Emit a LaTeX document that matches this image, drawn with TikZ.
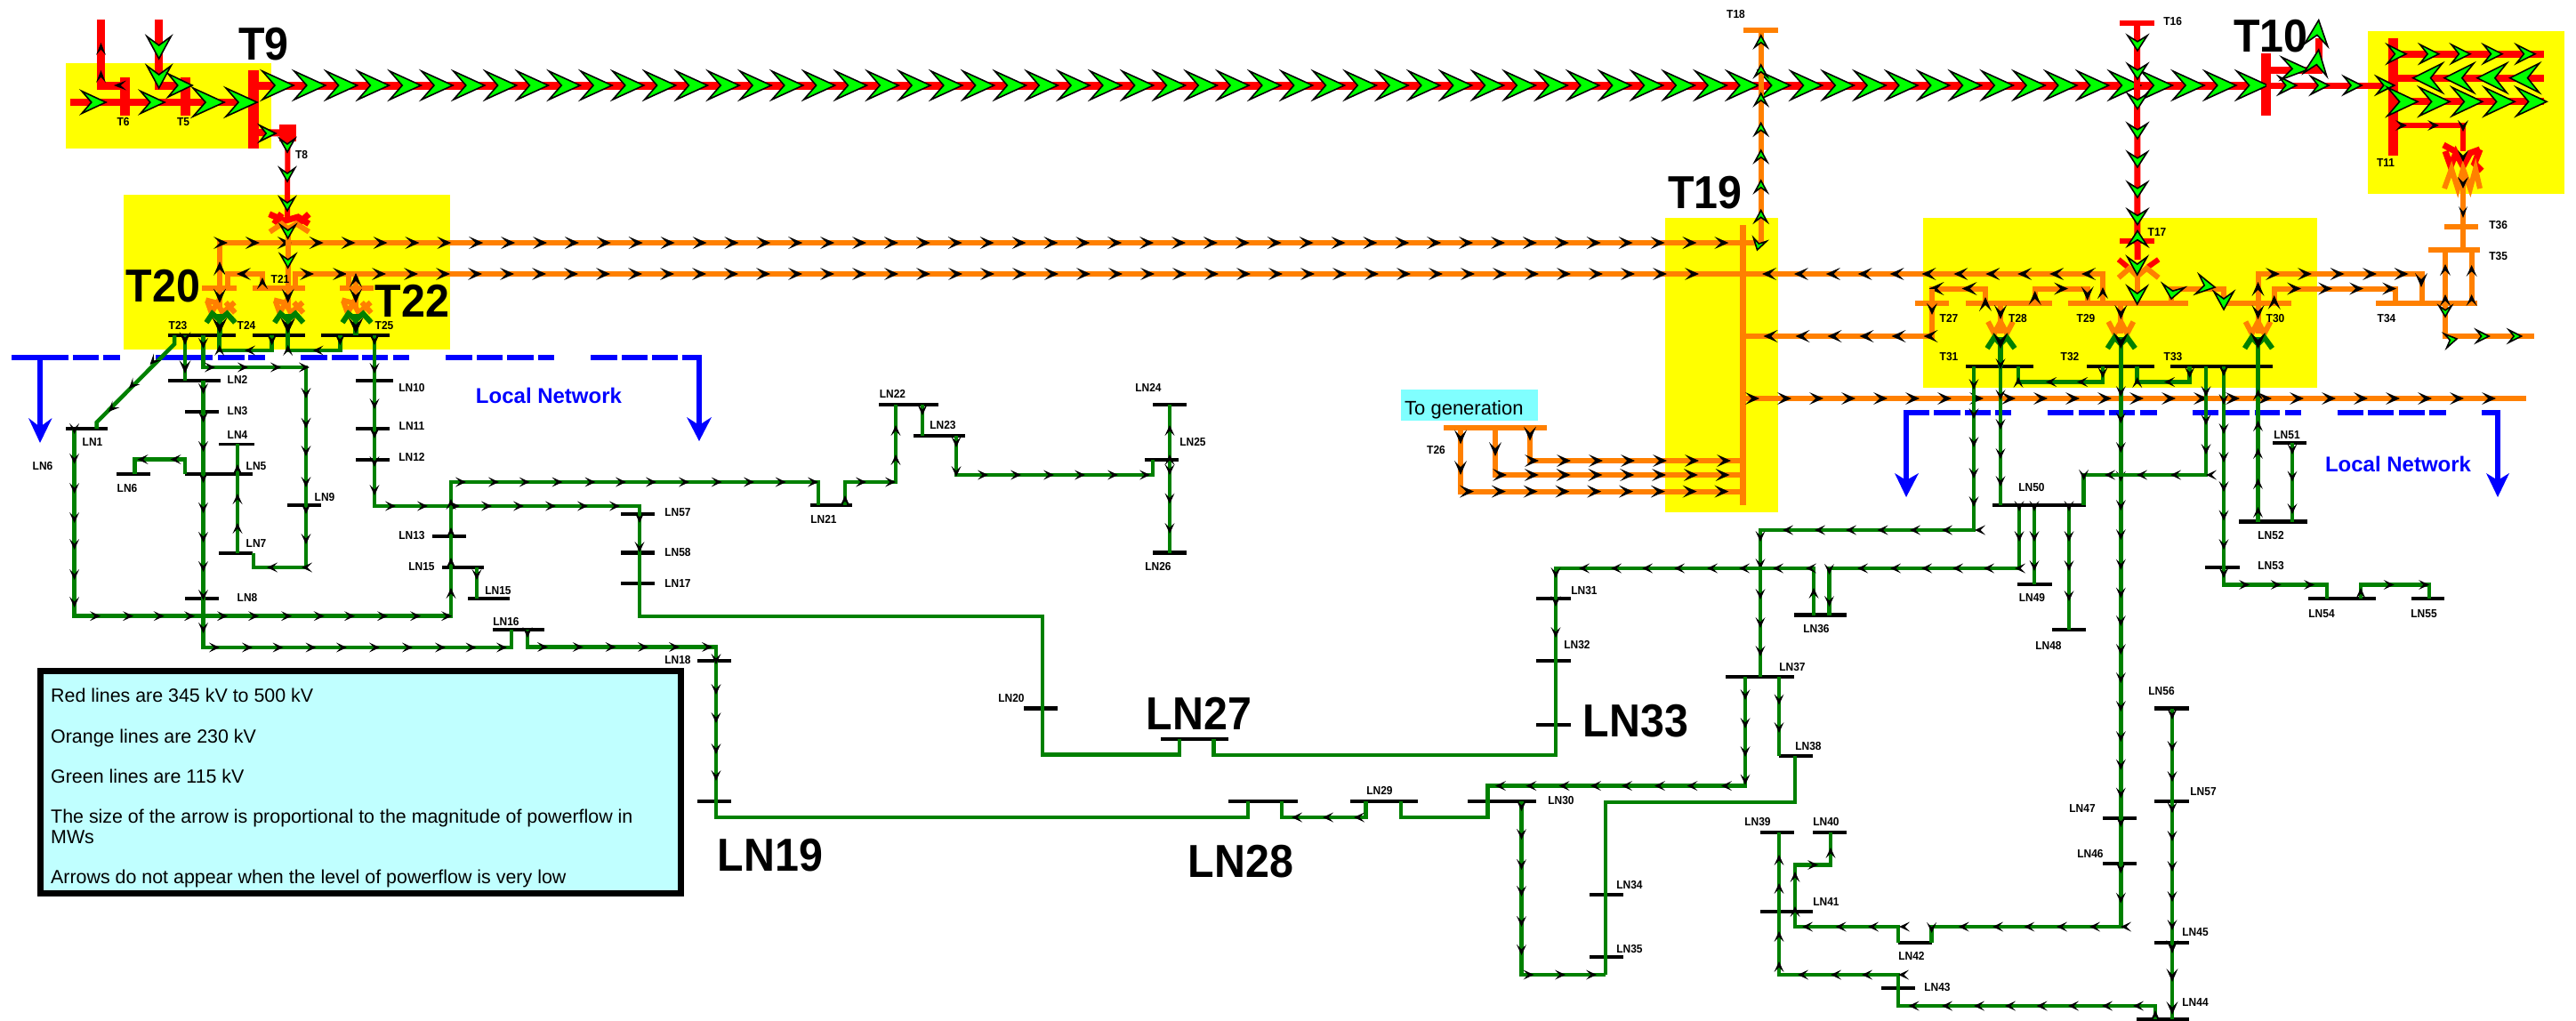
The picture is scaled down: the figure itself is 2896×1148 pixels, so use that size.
\documentclass[tikz,border=0pt]{standalone}
\usepackage{fontspec}
\usepackage{graphicx}
\setmainfont{Liberation Sans}
\definecolor{gline}{HTML}{008000}
\definecolor{oline}{HTML}{FF8000}
\definecolor{lime2}{HTML}{00FF00}
\definecolor{legbg}{HTML}{C0FFFF}
\definecolor{genbg}{HTML}{80FFFF}
\definecolor{yel}{rgb}{1,1,0}
\definecolor{rd}{rgb}{1,0,0}
\definecolor{blu2}{rgb}{0,0,1}
\tikzset{
  busn/.style={rectangle,inner sep=0pt,outer sep=0pt,draw=none},
  gl/.style={draw=gline,line width=4.5pt,line join=miter},
  ol/.style={draw=oline,line width=6pt,line join=miter},
  rl/.style={draw=rd,line width=#1pt,line join=miter},
  rl/.default=7,
  sml/.style={inner sep=0pt,font=\fontsize{13}{13}\selectfont\bfseries},
  big/.style={inner sep=0pt,text height=37pt,text depth=0pt,font=\fontsize{52}{52}\selectfont\bfseries},
  leg/.style={inner sep=0pt,anchor=base west,font=\fontsize{21.4}{22}\selectfont},
  blu/.style={draw=blu2,line width=6pt},
  lnet/.style={inner sep=0pt,text=blu2,font=\fontsize{24}{24}\selectfont\bfseries}
}
\newcommand\hb[6]{\node[busn,fill=#6,minimum width={(#3-#2)*1pt},minimum height={#5*1pt}] (#1) at ({(#2+#3)/2},#4) {};}
\newcounter{lb}
\newcommand\lbl[3]{\stepcounter{lb}\node[sml] (lab\thelb) at (#1,#2) {\scalebox{.92}[1]{#3}};}
\newcommand\biglb[3]{\stepcounter{lb}\node[big] (lab\thelb) at (#1,#2) {\scalebox{.93}[1]{#3}};}
% tips: L W x y angle
\newcommand\tk[5]{\fill[black,shift={(#3,#4)},rotate=#5] (0,0)--({-#1},{#2/2})--({-.55*#1},0)--({-#1},{-#2/2})--cycle;}
\newcommand\tg[5]{\filldraw[fill=lime2,draw=black,line width=1.6pt,miter limit=6,shift={(#3,#4)},rotate=#5] (0,0)--({-#1},{#2/2})--({-.6*#1},0)--({-#1},{-#2/2})--cycle;}
\newcommand\tG{\tk{12}{11}}
\newcommand\tO{\tk{16}{14}}
\newcommand\tB{\tk{18}{17}}
\newcommand\tS{\tg{15}{17}}
\newcommand\rR[3]{\foreach \q in {#3}{#1{\q}{#2}{0}}}
\newcommand\rL[3]{\foreach \q in {#3}{#1{\q}{#2}{180}}}
\newcommand\rD[3]{\foreach \q in {#3}{#1{#2}{\q}{-90}}}
\newcommand\rU[3]{\foreach \q in {#3}{#1{#2}{\q}{90}}}
% transformers
\newcommand\xa[1]{\begin{scope}[shift={(#1,346.7)}]
 \draw[ol] (-15.7,-9.3)--(-2.7,-6);
 \draw[ol] (-14,-8.3)--(-9.3,5)--(-2.7,-6)--(3.3,5)--(16.7,-6.7);
 \draw[ol] (6.7,-6.7)--(17.3,5);
 \draw[gl,line width=6pt] (-15,16)--(-8.3,6)--(0,13)--(8.3,6)--(17.3,16);
 \draw[gl,line width=6pt] (0,6)--(0,22);
 \end{scope}}
\newcommand\xb[1]{\begin{scope}[shift={(#1,0)}]
 \draw[ol] (-14,361.7)--(-7,375)--(0,361.7)--(7,375)--(14,361.7);
 \draw[gl,line width=6pt] (-15,391.7)--(-7,379.3)--(0,386.7)--(7,379.3)--(16,391.7);
 \end{scope}}
\begin{document}
\begin{tikzpicture}[x=1pt,y=-1pt]
\useasboundingbox[fill=white] (0,0) rectangle (2896,1148);
% yellow zones
\fill[yel] (74,71) rectangle (305,167);
\fill[yel] (139,219) rectangle (505.5,393);
\fill[yel] (1872,245) rectangle (1999,576);
\fill[yel] (2162,245) rectangle (2605,436);
\fill[yel] (2662,35) rectangle (2883,218);
% blue dashes
\draw[blu] (13,402)--(77,402) (82,402)--(111,402) (116,402)--(135,402)
 (175,402)--(239,402) (245,402)--(275,402) (279,402)--(298,402)
 (338,402)--(368,402) (373,402)--(403,402) (407,402)--(436,402) (442,402)--(460,402)
 (501,402)--(531,402) (536,402)--(565,402) (570,402)--(600,402) (605,402)--(623,402)
 (664,402)--(694,402) (699,402)--(728,402) (733,402)--(762,402) (767,402)--(789,402);
\draw[blu] (45,402)--(45,482) (786,402)--(786,480);
\fill[blu2] (45,498)--(32,470)--(45,480)--(58.6,470)--cycle;
\fill[blu2] (786,496)--(772,469)--(786,478)--(800,469)--cycle;
\draw[blu] (2140,464)--(2168.5,464) (2174,464)--(2203.5,464) (2209,464)--(2238,464) (2243,464)--(2261,464)
 (2302,464)--(2331,464) (2337,464)--(2366,464) (2371,464)--(2400,464) (2406,464)--(2425,464)
 (2465,464)--(2494,464) (2499.5,464)--(2529,464) (2534.5,464)--(2563,464) (2568.5,464)--(2587,464)
 (2628,464)--(2657,464) (2662,464)--(2691,464) (2697,464)--(2726,464) (2731,464)--(2750,464)
 (2790,464)--(2811,464);
\draw[blu] (2143,461)--(2143,542) (2808,461)--(2808,542);
\fill[blu2] (2143,559)--(2130,532)--(2143,540)--(2157,532)--cycle;
\fill[blu2] (2808,559)--(2795,532)--(2808,540)--(2821,532)--cycle;
% free ends
\coordinate (f1) at (113.5,22); \coordinate (f2) at (178.7,22); \coordinate (f3) at (79,115);
\coordinate (f4) at (2860,60.7); \coordinate (f5) at (2860,87.7); \coordinate (f6) at (2860,114.3);
\coordinate (f7) at (2606.7,43); \coordinate (f8) at (2840,448); \coordinate (f9) at (2849,378);
% buses
\hb{T9}{279}{291}{123}{88}{rd}
\hb{T6}{135}{146}{108.5}{43}{rd}
\hb{T5}{203}{214}{108.5}{43}{rd}
\hb{T8}{314}{333}{149.5}{19}{rd}
\hb{T10}{2542}{2553}{95}{69}{rd}
\hb{T11}{2684.5}{2695.5}{109}{132}{rd}
\hb{T16}{2383}{2422}{26}{6}{rd}
\hb{T17}{2383}{2422}{271}{6}{rd}
\hb{T18}{1960}{1999}{34.5}{6}{oline}
\hb{T19}{1956}{1963}{410.5}{315}{oline}
\hb{T20}{227}{266}{324}{6}{oline}
\hb{T21}{284}{343}{324}{6}{oline}
\hb{T22}{382}{420}{324}{6}{oline}
\hb{T26}{1623}{1739}{481}{6}{oline}
\hb{T27}{2153}{2191}{340.6}{6}{oline}
\hb{T28}{2210}{2307}{340.6}{6}{oline}
\hb{T29}{2325}{2460}{340.6}{6}{oline}
\hb{T30}{2501}{2576}{340.6}{6}{oline}
\hb{T34}{2671}{2785}{340.6}{6}{oline}
\hb{T35}{2730}{2788}{281}{6}{oline}
\hb{T36}{2748}{2786}{254.5}{6}{oline}
\hb{T23}{189}{265}{377}{4.5}{black}
\hb{T24}{284}{343}{377}{4.5}{black}
\hb{T25}{361}{438}{377}{4.5}{black}
\hb{T31}{2210}{2286}{412}{4.5}{black}
\hb{T32}{2346}{2422}{412}{4.5}{black}
\hb{T33}{2440}{2555}{412}{4.5}{black}
\hb{LN1}{74}{121}{482}{4.5}{black}
\hb{LN2}{189}{248}{428}{4.5}{black}
\hb{LN3}{208}{246}{463}{4.5}{black}
\hb{LN4}{246}{286}{499}{3}{black}
\hb{LN5}{208}{284}{533}{4.5}{black}
\hb{LN6}{131}{168.5}{533}{4.5}{black}
\hb{LN7}{246}{284}{622}{4.5}{black}
\hb{LN8}{208}{246}{673}{4.5}{black}
\hb{LN9}{323}{361}{568}{4.5}{black}
\hb{LN10}{400}{442}{428}{4.5}{black}
\hb{LN11}{400}{438}{482}{4.5}{black}
\hb{LN12}{400}{438}{517}{4.5}{black}
\hb{LN13}{486}{524}{603}{4.5}{black}
\hb{LN15}{497}{544}{638}{4.5}{black}
\hb{LN15b}{526}{573}{673}{4.5}{black}
\hb{LN16}{554}{612}{708}{4.5}{black}
\hb{LN57}{698}{736}{578}{4.5}{black}
\hb{LN58}{698}{736}{621.6}{4.5}{black}
\hb{LN17}{698}{736}{656}{4.5}{black}
\hb{LN18}{784}{822}{743}{4.5}{black}
\hb{LN19}{784}{822}{901}{4.5}{black}
\hb{LN20}{1151}{1189}{796.5}{4.5}{black}
\hb{LN21}{911}{958}{568}{4.5}{black}
\hb{LN22}{988}{1055}{455}{4.5}{black}
\hb{LN23}{1026.5}{1085}{490}{4.5}{black}
\hb{LN24}{1296}{1334}{455}{4.5}{black}
\hb{LN25}{1287}{1325}{517}{4.5}{black}
\hb{LN26}{1296}{1334}{621.6}{4.5}{black}
\hb{LN27}{1305}{1381}{831}{4.5}{black}
\hb{LN28}{1381}{1459}{901}{4.5}{black}
\hb{LN29}{1517.6}{1594}{901}{4.5}{black}
\hb{LN30}{1650}{1727}{901}{4.5}{black}
\hb{LN31}{1727}{1766}{673}{4.5}{black}
\hb{LN32}{1727}{1766}{743}{4.5}{black}
\hb{LN33}{1727}{1766}{815}{4.5}{black}
\hb{LN34}{1787}{1825}{1006}{4.5}{black}
\hb{LN35}{1787}{1825}{1076}{4.5}{black}
\hb{LN36}{2017}{2076}{691.6}{4.5}{black}
\hb{LN37}{1940}{2017}{761}{4.5}{black}
\hb{LN38}{2000}{2037.5}{850}{4.5}{black}
\hb{LN39}{1978.6}{2017}{936}{4.5}{black}
\hb{LN40}{2037.5}{2076}{936}{4.5}{black}
\hb{LN41}{1978.6}{2037.5}{1025}{4.5}{black}
\hb{LN42}{2134}{2172}{1060}{4.5}{black}
\hb{LN43}{2115}{2153}{1111}{4.5}{black}
\hb{LN44}{2402}{2461}{1146}{4.5}{black}
\hb{LN45}{2422}{2461}{1060}{4.5}{black}
\hb{LN46}{2364}{2402}{971}{4.5}{black}
\hb{LN47}{2364}{2402}{920}{4.5}{black}
\hb{LN48}{2307}{2345}{708}{4.5}{black}
\hb{LN49}{2268}{2307}{657}{4.5}{black}
\hb{LN50}{2240}{2345}{568}{4.5}{black}
\hb{LN51}{2555}{2593}{498}{4.5}{black}
\hb{LN52}{2517}{2594}{586.7}{4.5}{black}
\hb{LN53}{2479}{2517.5}{638}{4.5}{black}
\hb{LN54}{2595}{2671}{673}{4.5}{black}
\hb{LN55}{2710.5}{2748}{673}{4.5}{black}
\hb{LN56}{2422}{2461}{796.6}{4.5}{black}
\hb{LN57b}{2422}{2461}{901}{4.5}{black}
% ---------- red network
\draw[rl=9] (T9 |- 0,96)--(T10.east |- 0,96);
\rR{\tg{35}{32}}{96}{330,365.8,...,2553}
\draw[rl=9] (f1)--(113.5,96)--(T6 |- 0,96);
\rU{\tk{14}{11}}{113.5}{48,79}
\tk{14}{11}{128}{96}{180}
\draw[rl=9] (f2)--(178.7,96)--(T5 |- 0,96);
\rD{\tg{25}{27}}{178.7}{66,99}
\tg{27}{26}{216}{96}{0}
\draw[rl=8] (f3)--(T9 |- 0,115);
\tg{27}{25}{119}{115}{0}
\tg{27}{25}{185}{115}{0}
\tg{35}{32}{252}{115}{0}
\tg{35}{32}{289}{115}{0}
\draw[rl=8] (T9 |- 0,149)--(T8);
\tg{18}{18}{310}{150}{0}
\draw[rl=6] (T8)--(323,245);
\rD{\tS}{323}{171,204,237}
\draw[rl=7] (302.7,240.7)--(320,248.3)--(335,244)--(347.3,251.7);
\draw[rl=7] (308.3,251.7)--(316.7,240) (347.3,240.7)--(335,251.7);
\draw[ol] (303.3,260.7)--(316.7,251.7)--(323.7,257.3)--(333.3,251.7)--(347.3,260.7);
\draw[rl=7] (T10 |- 0,96)--(T11 |- 0,96);
\rR{\tg{20}{20}}{96}{2581.7,2618,2655,2691.7}
\draw[rl=8] (T10 |- 0,79.3)--(2606.7,79.3)--(f7);
\tg{30}{25}{2595}{78}{-2}
\tg{28}{26}{2606.7}{56}{82}
\tg{28}{26}{2606.7}{22.7}{84}
\draw[rl=8] (T11 |- f4)--(f4);
\rR{\tg{21}{21}}{60.7}{2705,2741.7,2777,2813,2850}
\draw[rl=8] (T11 |- f5)--(f5);
\rL{\tg{33}{33}}{87.7}{2712.7,2748,2785,2821.7}
\draw[rl=8] (T11 |- f6)--(f6);
\rR{\tg{34}{32}}{114.3}{2718,2754,2790.7,2827,2863}
\draw[rl=6] (T11 |- 0,141)--(2769,141)--(2769,170);
\rR{\tk{13}{12}}{141}{2706,2742}
\tk{13}{12}{2769}{148}{-90}
\draw[rl=7] (2749,170)--(2755,187)--(2761,172)--(2769,187)--(2777,172)--(2788,168);
\draw[rl=7] (2747,163)--(2760,170) (2780,182)--(2790,192) (2788,168)--(2781,186);
\draw[ol] (2748,212)--(2756,190)--(2763,212)--(2769,190)--(2777,212)--(2783,190)--(2788,212);
\draw[ol] (2769,190)--(2769,212);
\draw[rl=7] (T16)--(2403,292);
\rD{\tg{17}{22}}{2403}{57,89,122.5,156,188,222,252.6}
\tg{17}{22}{2403}{259.5}{90}
\draw[rl=6] (2381.7,291.7)--(2391.7,300) (2426.7,291.7)--(2415,300);
\draw[ol] (2381.7,312.3)--(2394,301.7)--(2402.7,310.7)--(2413.3,301.7)--(2426.7,312.3);
\draw[ol] (2402.7,305)--(2402.7,0 |- T29);
\tg{20}{22}{2402.7}{309}{-90}
\tg{20}{22}{2402.7}{342}{-90}
% ---------- orange network
\draw[ol] (247,0 |- T20)--(247,273)--(T19.east |- 0,273);
\tO{247}{294}{90}
\rR{\tO}{273}{256,291.9,...,1945}
\draw[ol] (323.7,255)--(323.7,0 |- T21);
\tS{323.7}{268}{-90}
\tS{323.7}{301}{-90}
\draw[ol] (332,0 |- T21)--(332,308)--(392,308);
\rR{\tO}{308}{353,390}
\draw[ol] (392,0 |- T22)--(392,308)--(T19 |- 0,308);
\rR{\tO}{308}{434,470,...,1945}
\draw[ol] (400,0 |- T22)--(400,308);
\tO{400}{307}{90}
\draw[ol] (295,0 |- T21)--(295,308)--(256,308)--(256,0 |- T20);
\tk{13}{12}{295}{312}{90}
\tO{266}{308}{180}
% T19 to T18
\draw[ol] (T19 |- 0,273)--(1979.7,273)--(1979.7,0 |- T18);
\rU{\tg{13}{14}}{1979.7}{40,73,105,138.5,169,203,236.5}
\tg{12}{15}{1975.5}{281}{-105}
% from T29 left to T19
\draw[ol] (2364,0 |- T29)--(2364,308)--(T19 |- 0,308);
\tk{13}{12}{2364}{323}{90}
\rL{\tO}{308}{2340,2304.1,...,1980}
% from T28 to T19
\draw[ol] (2232,0 |- T28)--(2232,324.5)--(2172,324.5)--(2172,378)--(T19 |- 0,378);
\tO{2232}{334}{90}
\rL{\tk{17}{15}}{324.5}{2168.5,2205.6}
\tk{13}{12}{2172}{354}{-90}
\rL{\tO}{378}{2162.5,2126.5,...,1980}
\draw[ol] (T19 |- 0,448)--(f8);
\rR{\tO}{448}{1978,2014,...,2840}
\draw[ol] (2287.7,0 |- T28)--(2287.7,324.5)--(2346.7,324.5)--(2346.7,0 |- T29);
\tO{2287.7}{327}{90}
\tO{2325}{324.5}{0}
\tO{2346.7}{338}{-90}
\draw[ol] (2441,0 |- T29)--(2441,324.5)--(2500,324.5)--(2500,0 |- T30);
\tg{15}{25}{2441}{336}{-100}
\tg{20}{22}{2490}{323}{-10}
\tg{20}{22}{2500}{348}{-90}
\draw[ol] (2538.5,0 |- T30)--(2538.5,308)--(2723,308)--(2723,0 |- T34);
\tO{2538.5}{317}{90}
\rR{\tO}{308}{2563,2599,2635.6,2672,2707.6}
\tO{2722}{323}{-90}
\draw[ol] (2556.7,0 |- T30)--(2556.7,324.5)--(2693,324.5)--(2693,0 |- T34);
\tO{2556.7}{332}{90}
\rR{\tO}{324.5}{2587,2622,2657,2694}
\draw[ol] (2749,0 |- T34)--(2749,0 |- T35);
\rU{\tk{13}{12}}{2749}{297,331}
\draw[ol] (2778.6,0 |- T34)--(2778.6,0 |- T35);
\rU{\tk{13}{12}}{2778.6}{298,331}
\draw[ol] (2749,0 |- T34)--(2749,378)--(f9);
\tg{12}{14}{2749}{356}{-90}
\tg{13}{16}{2762}{381}{10}
\rR{\tg{14}{14}}{378}{2798,2834.5}
\draw[ol] (2769,195)--(2769,0 |- T35);
\tk{13}{12}{2769}{182}{-90}
\tk{13}{12}{2769}{212}{-90}
\tk{13}{10}{2769}{245}{-90}
% T26 to T19
\draw[ol] (1642,0 |- T26)--(1642,552.6)--(T19.east |- 0,552.6);
\rD{\tO}{1642}{499.4,534}
\rR{\tO}{552.6}{1657,1692.8,...,1946}
\draw[ol] (1681,0 |- T26)--(1681,534)--(T19.east |- 0,534);
\tO{1681}{513}{-90}
\rR{\tO}{534}{1694,1729.8,...,1946}
\draw[ol] (1720,0 |- T26)--(1720,518)--(T19.east |- 0,518);
\tO{1720}{495.6}{-90}
\rR{\tO}{518}{1730,1766,...,1946}
\draw[ol] (T27)--(2172,324.5);
% transformers, T20 T21 T22
\foreach \cc/\bbn/\ffn in {247/T20/T23,323.7/T21/T24,400/T22/T25}{
 \xa{\cc}
 \draw[ol] (\cc,0 |- \bbn)--(\cc,345);
 \draw[gl,line width=5.5pt] (\cc,355)--(\cc,0 |- \ffn);
 \tO{\cc}{340.7}{-90}
 \tB{\cc}{375}{-90}
}
% transformers, T28 T29 T30
\foreach \cc/\bbn/\ffn in {2249/T28/T31,2384.3/T29/T32,2538.5/T30/T33}{
 \xb{\cc}
 \draw[ol] (\cc,0 |- \bbn)--(\cc,375);
 \draw[gl,line width=5.5pt] (\cc,379)--(\cc,0 |- \ffn);
 \tO{\cc}{359}{-90}
 \tB{\cc}{392}{-90}
}
% ---------- green network
\draw[gl] (196,0 |- T23)--(196,387)--(108.5,475)--(108.5,0 |- LN1);
\foreach \aa/\ab in {168.5/410,145/437,122/463}{\tG{\aa}{\ab}{-134}}
\draw[gl] (208,0 |- T23)--(208,0 |- LN2);
\rD{\tk{15}{13}}{208}{388,420}
\draw[gl] (228.5,0 |- T23)--(228.5,413)--(344,413)--(344,638)--(285,638)--(285,0 |- LN7);
\tG{228.5}{392}{-90}
\rR{\tG}{413}{242,279,316,348}
\rD{\tG}{344}{448,481.7,513,548,578,612}
\rL{\tG}{638}{300,339}
\draw[gl] (305.7,0 |- T24)--(305.7,394)--(246.7,394)--(246.7,0 |- T23);
\tG{305.7}{388}{-90}
\tG{275}{394}{180}
\tG{246.7}{388}{90}
\draw[gl] (382.3,0 |- T25)--(382.3,394)--(323.7,394)--(323.7,0 |- T24);
\tG{382.3}{388}{-90}
\tG{351.7}{394}{180}
\tG{323.7}{388}{90}
\draw[gl] (421,0 |- T25)--(421,569)--(719,569)--(719,693)--(1172,693)--(1172,848.5)--(1326,848.5)--(1326,0 |- LN27);
\rD{\tG}{421}{388,420,460,493,525,557}
\rR{\tG}{569}{445,481,...,700}
\rD{\tG}{719}{588,621}
% LN1 loop
\draw[gl] (83.6,0 |- LN1)--(83.6,692.7)--(507,692.7)--(507,542)--(920,542)--(920,0 |- LN21);
\rD{\tG}{83.6}{488,521.7,555,588,618,652,683}
\rR{\tG}{692.7}{113,150,184.7,219,256,291,328,364.7,399,436,473,508}
\rU{\tG}{507}{661,627,593,561}
\rR{\tG}{542}{524,561,595.6,632.5,669.5,704,738,775,811.6,848,883.7,920}
\draw[gl] (950,0 |- LN21)--(950,542)--(1007,542)--(1007,0 |- LN22);
\tG{950}{557}{90}
\rR{\tG}{542}{974,1007}
\rU{\tG}{1007}{511,478}
\draw[gl] (1037,0 |- LN22)--(1037,0 |- LN23);
\tG{1037}{467}{-90}
\draw[gl] (1075,0 |- LN23)--(1075,534)--(1296,534)--(1296,0 |- LN25);
\rD{\tG}{1075}{503,536}
\rR{\tG}{534}{1111,1148,1185,1220,1257,1293}
\draw[gl] (1315,0 |- LN24)--(1315,0 |- LN26);
\rU{\tG}{1315}{478,511}
\rD{\tG}{1315}{534,566.5,600}
% LN2 branch
\draw[gl] (228.5,0 |- LN2)--(228.5,728)--(575,728)--(575,0 |- LN16);
\rD{\tG}{228.5}{443,475,508,543,577,610,643,675,712}
\rR{\tG}{728}{247,284,318.5,355.5,390,427,464,501,535.5,570}
\draw[gl] (593,0 |- LN16)--(593,727.5)--(805,727.5)--(805,919)--(1403,919)--(1403,0 |- LN28);
\tG{593}{717}{-90}
\rR{\tG}{727.5}{616,655.6,692.5,729,764,801}
\rD{\tG}{805}{747,781,813,848,878}
\draw[gl] (1441,0 |- LN28)--(1441,919)--(1535.5,919)--(1535.5,0 |- LN29);
\rL{\tG}{919}{1452,1487,1522}
\draw[gl] (1575,0 |- LN29)--(1575,919)--(1672.5,919)--(1672.5,883.6)--(1962,883.6)--(1962,0 |- LN37);
\rL{\tG}{883.6}{1681,1715.4,1752.6,1788,1823,1860,1896.5,1935}
\rD{\tG}{1962}{787,819,851,882.5}
% LN5, LN4, LN7
\draw[gl] (208,0 |- LN5)--(208,516.5)--(151.5,516.5)--(151.5,0 |- LN6);
\rL{\tG}{516.5}{191.6,154.6}
\draw[gl] (267,0 |- LN7)--(267,0 |- LN4);
\rU{\tG}{267}{588,555,522}
\draw[gl] (536,0 |- LN15)--(536,0 |- LN15b);
\tG{536}{652}{-90}
% right side
\draw[gl] (2219,0 |- T31)--(2219,596)--(1979,596)--(1979,0 |- LN37);
\rD{\tG}{2219}{438,471,503,538,570}
\rL{\tG}{596}{2220,2183,2147,2110.5,2075,2040,2004}
\rD{\tG}{1979}{609,640,674,706,738}
\draw[gl] (2249,0 |- T31)--(2249,0 |- LN50);
\rD{\tG}{2249}{415,450,483,516,547}
\draw[gl] (2384.3,0 |- T32)--(2384.3,1042)--(2171.6,1042)--(2171.6,0 |- LN42);
\rD{\tG}{2384.3}{446,476,509,541.5,574,607,640.6,672.5,704,736,768,800,834,865.6,897.5,930,982,1015.6}
\rL{\tG}{1042}{2384,2349,2312,2275.4,2240,2201.7}
\tG{2171.6}{1049}{-90}
\draw[gl] (2364,0 |- T32)--(2364,429.5)--(2269,429.5)--(2269,0 |- T31);
\tG{2364}{425}{-90}
\rL{\tG}{429.5}{2300,2335}
\tG{2269}{424}{90}
\draw[gl] (2461.7,0 |- T33)--(2461.7,429.5)--(2402.7,429.5)--(2402.7,0 |- T32);
\tG{2461.7}{425}{-90}
\tG{2433}{429.5}{180}
\tG{2402.7}{424}{90}
\draw[gl] (2480,0 |- T33)--(2480,534)--(2342.6,534)--(2342.6,0 |- LN50);
\rD{\tG}{2480}{446,478,511}
\rL{\tG}{534}{2480,2440,2402,2366}
\tG{2342.6}{540}{-90}
\draw[gl] (2500,0 |- T33)--(2500,657.5)--(2616,657.5)--(2616,0 |- LN54);
\rD{\tG}{2500}{423,455,488,520,553,585.5,618,650}
\rR{\tG}{657.5}{2529,2564.5,2602}
\draw[gl] (2654,0 |- LN54)--(2654,657.5)--(2731,657.5)--(2731,0 |- LN55);
\tG{2654}{661}{90}
\tG{2691.6}{657.5}{0}
\tG{2731}{657.5}{0}
\draw[gl] (2538.5,0 |- LN52)--(2538.5,0 |- T33);
\rU{\tG}{2538.5}{570,538,504,473,438}
\draw[gl] (2577,0 |- LN51)--(2577,0 |- LN52);
\rD{\tG}{2577}{511,541.5,578}
\draw[gl] (2270,0 |- LN50)--(2270,639)--(2056.5,639)--(2056.5,0 |- LN36);
\rD{\tG}{2270}{575,609}
\rL{\tG}{639}{2265,2230,2195,2160,2125,2088}
\rD{\tG}{2056.5}{646,682}
\draw[gl] (2039,0 |- LN36)--(2039,639)--(1749,639)--(1749,849)--(1364.5,849)--(1364.5,0 |- LN27);
\tG{2039}{661}{90}
\rL{\tG}{639}{2030,1993,1955,1919,1882,1846,1811,1775}
\rD{\tG}{1749}{650,682,717}
\draw[gl] (2287,0 |- LN50)--(2287,0 |- LN49);
\rD{\tG}{2287}{575,609,642}
\draw[gl] (2326,0 |- LN50)--(2326,0 |- LN48);
\rD{\tG}{2326}{575,609,642,676}
\draw[gl] (2000,0 |- LN37)--(2000,0 |- LN38);
\rD{\tG}{2000}{792.5,824}
\draw[gl] (2018,0 |- LN38)--(2018,902)--(1805,902)--(1805,1096);
\draw[gl] (1710.5,0 |- LN30)--(1710.5,1096)--(1805,1096);
\rD{\tG}{1710.5}{912,944,978,1008,1042,1074}
\rR{\tG}{1096}{1724.5,1760,1795}
\draw[gl] (2134,0 |- LN42)--(2134,1042)--(2018,1042)--(2018,972.5)--(2058,972.5)--(2058,0 |- LN40);
\rL{\tG}{1042}{2135,2100,2063.5,2026}
\rU{\tG}{2018}{1019,980}
\tG{2044}{972.5}{0}
\tG{2058}{953}{90}
\draw[gl] (2423,0 |- LN44)--(2423,1131)--(2134,1131)--(2134,1096)--(2000,1096)--(2000,0 |- LN39);
\tG{2423}{1136}{90}
\rL{\tG}{1131}{2398,2363,2325,2289.5,2254,2219,2183,2145.6}
\rL{\tG}{1096}{2134,2093,2058,2021}
\rU{\tG}{2000}{1081,1047,993,961}
\draw[gl] (2442,0 |- LN56)--(2442,0 |- LN44);
\rD{\tG}{2442}{809,845,879,914,946,980,1014,1046}
\rD{\tk{15}{13}}{2442}{1072,1104,1141}
% legend
\node[busn,draw=black,line width=7pt,fill=legbg,minimum width=720pt,minimum height=250pt] (legend) at (405.5,879.5) {};
\node[leg] (leg1) at (57,789) {Red lines are 345 kV to 500 kV};
\node[leg] (leg2) at (57,835) {Orange lines are 230 kV};
\node[leg] (leg3) at (57,880) {Green lines are 115 kV};
\node[leg] (leg4) at (57,925) {The size of the arrow is proportional to the magnitude of powerflow in};
\node[leg] (leg5) at (57,948) {MWs};
\node[leg] (leg6) at (57,993) {Arrows do not appear when the level of powerflow is very low};
\node[busn,fill=genbg,minimum width=154pt,minimum height=35pt] (gen) at (1652,455.5) {};
\node[inner sep=0pt,anchor=base west,font=\fontsize{22}{22}\selectfont] (gentxt) at (1579,466) {To generation};
\node[lnet] (lnetl) at (617,445) {Local Network};
\node[lnet] (lnetr) at (2696,522) {Local Network};
% large labels
\biglb{296.5}{49}{T9}
\biglb{183.5}{321}{T20}
\biglb{463.5}{338}{T22}
\biglb{1917}{216}{T19}
\biglb{2553}{40}{T10}
\biglb{1839}{810}{LN33}
\biglb{866}{961}{LN19}
\biglb{1348}{802}{LN27}
\biglb{1395}{968}{LN28}
% small labels
\lbl{138.5}{137}{T6}\lbl{206}{137}{T5}\lbl{339}{174}{T8}\lbl{315}{314}{T21}
\lbl{200}{366}{T23}\lbl{277}{366}{T24}\lbl{432}{366}{T25}
\lbl{1951.5}{15.7}{T18}\lbl{2442.6}{24}{T16}\lbl{2425}{261}{T17}\lbl{2682}{183}{T11}
\lbl{1614.5}{506}{T26}\lbl{2191}{358}{T27}\lbl{2268.5}{358}{T28}\lbl{2345}{358}{T29}\lbl{2558}{358}{T30}
\lbl{2191}{401}{T31}\lbl{2327}{401}{T32}\lbl{2443}{401}{T33}\lbl{2683}{358}{T34}
\lbl{2808.6}{288}{T35}\lbl{2808.6}{253}{T36}
\lbl{104}{497}{LN1}\lbl{48}{524}{LN6}\lbl{143}{549}{LN6}\lbl{267}{427}{LN2}\lbl{267}{462}{LN3}\lbl{267}{489}{LN4}
\lbl{288}{524}{LN5}\lbl{288}{611}{LN7}\lbl{278}{672}{LN8}\lbl{365}{559}{LN9}
\lbl{463}{436}{LN10}\lbl{463}{479}{LN11}\lbl{463}{514}{LN12}\lbl{463}{602}{LN13}
\lbl{474}{637}{LN15}\lbl{560}{664}{LN15}\lbl{569}{699}{LN16}
\lbl{762}{576}{LN57}\lbl{762}{621}{LN58}\lbl{762}{656}{LN17}\lbl{762}{742}{LN18}
\lbl{1137}{785}{LN20}\lbl{926}{584}{LN21}\lbl{1003.5}{443}{LN22}\lbl{1060}{478}{LN23}
\lbl{1291}{436}{LN24}\lbl{1341}{497}{LN25}\lbl{1302}{637}{LN26}\lbl{1551}{889.5}{LN29}\lbl{1755}{900}{LN30}
\lbl{1781}{664}{LN31}\lbl{1773}{725}{LN32}\lbl{1832}{995}{LN34}\lbl{1832}{1067}{LN35}
\lbl{2042}{707}{LN36}\lbl{2015}{750}{LN37}\lbl{2033}{839}{LN38}
\lbl{1976}{924}{LN39}\lbl{2053}{924}{LN40}\lbl{2053}{1014}{LN41}\lbl{2149}{1075}{LN42}\lbl{2178}{1110}{LN43}
\lbl{2468}{1127}{LN44}\lbl{2468}{1048}{LN45}\lbl{2350}{960}{LN46}\lbl{2341}{909}{LN47}
\lbl{2303}{726}{LN48}\lbl{2284.5}{672}{LN49}\lbl{2284}{548}{LN50}\lbl{2571}{488.7}{LN51}\lbl{2553}{601.6}{LN52}
\lbl{2553}{636.5}{LN53}\lbl{2610}{690.5}{LN54}\lbl{2725}{690.5}{LN55}\lbl{2430}{777}{LN56}\lbl{2477}{890}{LN57}
\end{tikzpicture}
\end{document}
